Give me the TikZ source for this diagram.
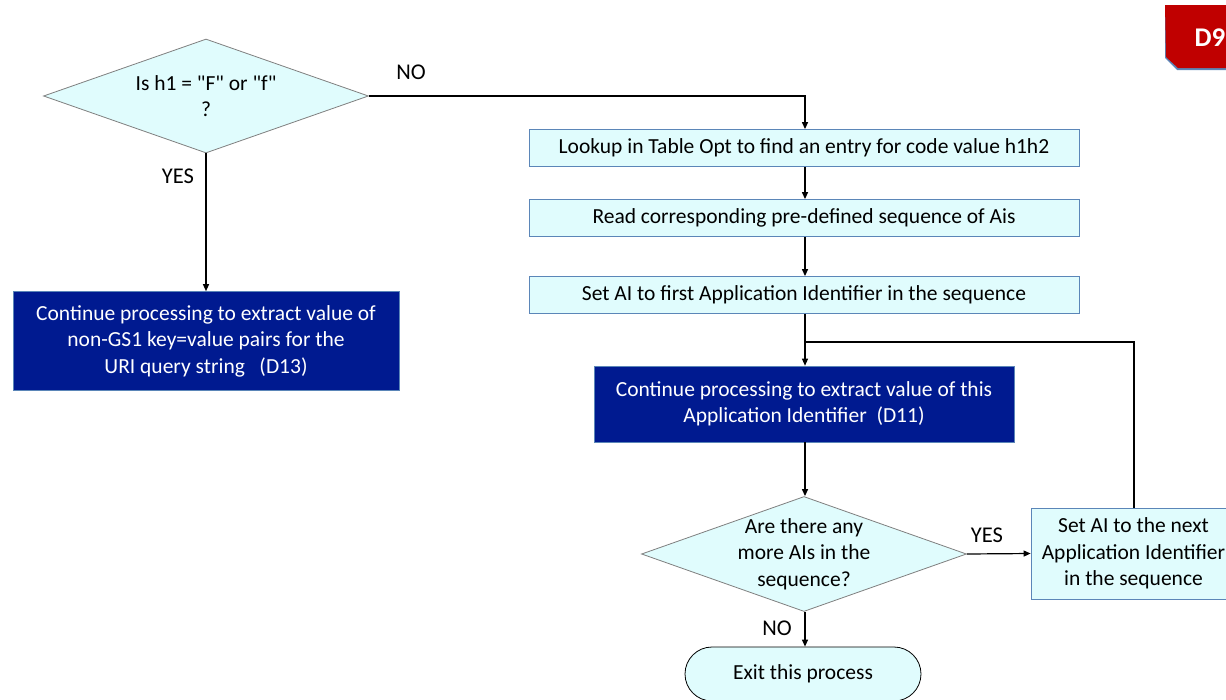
\documentclass[tikz,border=0pt]{standalone}
\usepackage{fontspec}
\setmainfont{Carlito}
\usetikzlibrary{shapes.geometric,arrows.meta}
\definecolor{lightfill}{HTML}{E0FCFD}
\definecolor{boxedge}{HTML}{5B86B8}
\definecolor{diaedge}{HTML}{7F7F7F}
\definecolor{darkblue}{HTML}{001A90}
\definecolor{badgered}{HTML}{C00000}
\tikzset{
  txt/.style={font=\fontsize{21.5}{26.5}\selectfont},
  lightbox/.style={txt, draw=boxedge, fill=lightfill, line width=0.8pt, minimum width=550, minimum height=37, inner sep=0pt, anchor=center},
  darkbox/.style={txt, draw=boxedge, fill=darkblue, text=white, line width=0.6pt, inner sep=0pt, align=center},
  decision/.style={txt, draw=diaedge, fill=lightfill, line width=0.8pt, diamond, aspect=2.85, inner sep=0pt, align=center},
  conn/.style={line width=1.2pt, -{Triangle[length=7pt,width=6pt]}},
  plain/.style={line width=1.2pt},
  lbl/.style={font=\fontsize{22.5}{26}\selectfont}
}
\begin{document}
\begin{tikzpicture}[x=1pt,y=-1pt]
\useasboundingbox (0,0) rectangle (1226,699);
\clip (0,0) rectangle (1226,699);
% badge
\fill[boxedge] (1165,5) -- (1240,5) -- (1240,70) -- (1177,70) -- (1165,58) -- cycle;
\fill[badgered] (1165,5) -- (1240,5) -- (1240,68) -- (1178,68) -- (1166,57) -- cycle;
\node[text=white, font=\fontsize{27}{30}\selectfont\bfseries] (badge) at (1210,38) {D9};
% first decision
\node[decision, minimum width=325, minimum height=114] (d1) at (206,96) {Is h1 = \textquotedbl F\textquotedbl\ or \textquotedbl f\textquotedbl\\?};
\node[lbl] (no1) at (411,72) {NO};
\node[lbl] (yes1) at (178,176) {YES};
% D13 box
\node[darkbox, minimum width=386, minimum height=99] (d13) at (206,341) {Continue processing to extract value of\\non-GS1 key=value pairs for the\\URI query string \ \ (D13)};
% right column
\node[lightbox] (b1) at (804,148) {Lookup in Table Opt to find an entry for code value h1h2};
\node[lightbox] (b2) at (804,218) {Read corresponding pre-defined sequence of Ais};
\node[lightbox] (b3) at (804,295) {Set AI to first Application Identifier in the sequence};
\node[darkbox, minimum width=420, minimum height=76] (d11) at (804,404) {Continue processing to extract value of this\\Application Identifier \ (D11)};
\node[decision, inner sep=-10pt, minimum width=325, minimum height=115] (d2) at (804,554) {Are there any\\more AIs in the\\sequence?};
\node[txt, draw=boxedge, fill=lightfill, line width=0.8pt, minimum width=205, minimum height=91, inner sep=0pt, align=center] (nxt) at (1133.5,553.5) {Set AI to the next\\Application Identifier\\in the sequence};
\node[lbl] (yes2) at (987,535) {YES};
\node[lbl] (no2) at (777,628) {NO};
\node[txt, draw=black, fill=lightfill, line width=0.8pt, rounded corners=27, minimum width=236, minimum height=54, inner sep=0pt] (exit) at (803,674) {Exit this process};
% connectors
\coordinate (c1) at (805,96);
\draw[conn] (d1.east) -- (c1) -- (b1.north -| c1);
\draw[conn] (d1.south) -- (d13.north);
\draw[conn] (b1.south -| c1) -- (b2.north -| c1);
\draw[conn] (b2.south -| c1) -- (b3.north -| c1);
\draw[conn] (b3.south -| c1) -- (d11.north -| c1);
\coordinate (lp) at (1134,342);
\draw[plain] (nxt.north -| lp) -- (lp) -- (lp -| c1);
\draw[conn] (d11.south -| c1) -- (d2.north -| c1);
\draw[conn] (d2.east) -- (nxt.west);
\draw[conn] (d2.south -| c1) -- (exit.north -| c1);
\end{tikzpicture}
\end{document}
